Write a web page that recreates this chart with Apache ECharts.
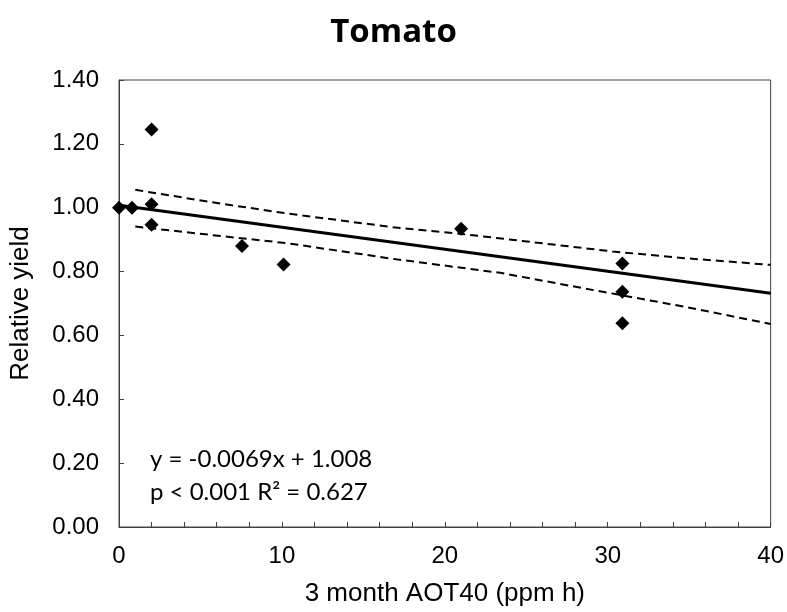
<!DOCTYPE html>
<html>
<head>
<meta charset="utf-8">
<script src="https://cdn.jsdelivr.net/npm/echarts@6/dist/echarts.min.js"></script>
<style>html,body{margin:0;padding:0;background:#fff;}#chart{width:787px;height:612px;}</style>
</head>
<body>
<div id="chart"></div>
<script>
// Observed data (AOT40 in ppm h, relative yield)
const obsX = [0, 0.8, 2, 2, 2, 7.55, 10.1, 21.0, 30.9, 30.9, 30.9];
const obsY = [1.00, 1.00, 1.245, 1.011, 0.947, 0.880, 0.822, 0.934, 0.825, 0.737, 0.638];
// Regression line end points
const fitX = [0, 40];
const fitY = [1.008, 0.732];
// Confidence band
const upperX = [1.0, 5.6, 10.3, 16.8, 21.0, 30.3, 34.7, 40];
const upperY = [1.056, 1.018, 0.982, 0.939, 0.918, 0.863, 0.842, 0.821];
const lowerX = [1.0, 5.6, 10.3, 16.8, 23.4, 30.3, 34.7, 40];
const lowerY = [0.941, 0.915, 0.889, 0.840, 0.796, 0.731, 0.690, 0.636];
const yTicks = [0, 0.2, 0.4, 0.6, 0.8, 1.0, 1.2, 1.4];
const titleText = 'Tomato';
const eqLine1 = 'y = -0.0069x + 1.008';
const eqLine2 = 'p < 0.001 R² = 0.627';

const zip = (a, b) => a.map((v, i) => [v, b[i]]);

const chart = echarts.init(document.getElementById('chart'));
chart.setOption({
  animation: false,
  backgroundColor: '#fff',
  title: {
    text: titleText, left: 'center', top: 11,
    textStyle: { fontFamily: 'Open Sans', fontWeight: 'bold', fontSize: 33, color: '#000' }
  },
  grid: { left: 119, right: 16, top: 80, bottom: 82, show: true, borderColor: '#404040', borderWidth: 1 },
  xAxis: {
    type: 'value', min: 0, max: 40, interval: 10,
    name: '3 month AOT40 (ppm h)', nameLocation: 'middle', nameGap: 54,
    nameTextStyle: { fontFamily: 'Liberation Sans', fontSize: 26, color: '#000' },
    axisLine: { lineStyle: { color: '#404040', width: 1 } },
    axisTick: { inside: true, length: 5, lineStyle: { color: '#404040' } },
    minorTick: { show: true, splitNumber: 5, length: 5, lineStyle: { color: '#404040' } },
    splitLine: { show: false },
    axisLabel: { margin: 17, fontFamily: 'Liberation Sans', fontSize: 24, color: '#000' }
  },
  yAxis: {
    type: 'value', min: 0, max: 1.4, interval: 0.2,
    name: 'Relative yield', nameLocation: 'middle', nameGap: 85,
    nameTextStyle: { fontFamily: 'Liberation Sans', fontSize: 26, color: '#000' },
    axisLine: { show: true, lineStyle: { color: '#404040', width: 1 } },
    axisTick: { show: true, inside: true, length: 5, lineStyle: { color: '#404040' } },
    splitLine: { show: false },
    axisLabel: { margin: 20, fontFamily: 'Liberation Sans', fontSize: 24, color: '#000',
      formatter: v => yTicks.includes(Math.round(v * 10) / 10) ? v.toFixed(2) : '' }
  },
  graphic: [
    { type: 'text', left: 150, top: 447, style: { text: eqLine1, fontFamily: 'Lato', fontSize: 24, fill: '#000' } },
    { type: 'text', left: 150, top: 480, style: { text: eqLine2, fontFamily: 'Lato', fontSize: 24, fill: '#000' } }
  ],
  series: [
    { type: 'line', data: zip(upperX, upperY), symbol: 'none', z: 2,
      lineStyle: { color: '#000', width: 2, type: [8, 5] } },
    { type: 'line', data: zip(lowerX, lowerY), symbol: 'none', z: 2,
      lineStyle: { color: '#000', width: 2, type: [8, 5] } },
    { type: 'line', data: zip(fitX, fitY), symbol: 'none', z: 3,
      lineStyle: { color: '#000', width: 3 } },
    { type: 'scatter', data: zip(obsX, obsY), symbol: 'diamond', symbolSize: 14, z: 5,
      itemStyle: { color: '#000', opacity: 1 } }
  ]
});
</script>
</body>
</html>
